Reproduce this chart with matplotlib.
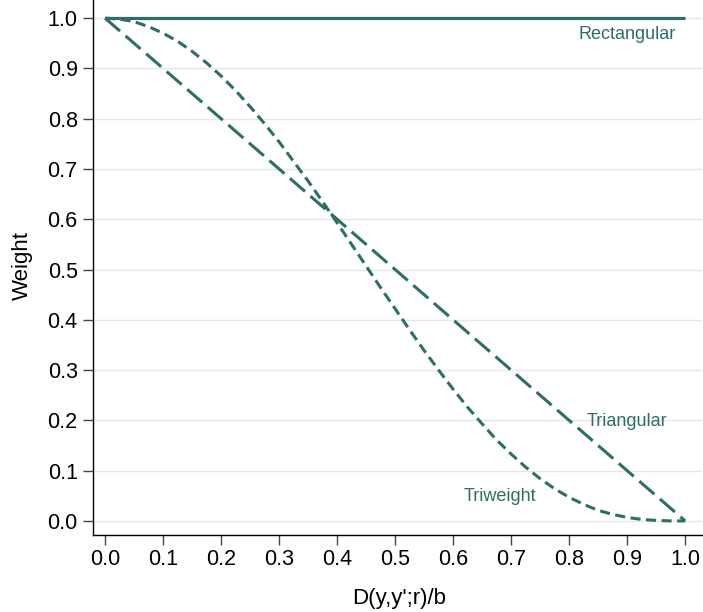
import numpy as np
from matplotlib import pyplot as plt

plt.rcParams['font.family'] = ['Liberation Sans', 'DejaVu Sans']

# distance values (x) and weights
d = [0.0, 0.025, 0.05, 0.075, 0.1, 0.125, 0.15, 0.175, 0.2, 0.225, 0.25, 0.275, 0.3,
     0.325, 0.35, 0.375, 0.4, 0.425, 0.45, 0.475, 0.5, 0.525, 0.55, 0.575, 0.6, 0.625,
     0.65, 0.675, 0.7, 0.725, 0.75, 0.775, 0.8, 0.825, 0.85, 0.875, 0.9, 0.925, 0.95,
     0.975, 1.0]
rect_w = [1.0] * len(d)
tri_d = [0.0, 1.0]
tri_w = [1.0, 0.0]
triweight_w = [1.0, 0.998, 0.993, 0.983, 0.970, 0.954, 0.934, 0.911, 0.885, 0.856,
               0.824, 0.790, 0.754, 0.715, 0.676, 0.635, 0.593, 0.550, 0.507, 0.464,
               0.422, 0.380, 0.339, 0.300, 0.262, 0.226, 0.193, 0.161, 0.133, 0.107,
               0.084, 0.064, 0.047, 0.033, 0.021, 0.013, 0.007, 0.003, 0.001, 0.0, 0.0]

col = '#2e6e66'

fig = plt.figure(figsize=(7.03, 6.12), dpi=100)
ax = fig.add_axes([0.1323, 0.1258, 0.8663, 0.8742])

ax.plot(d, rect_w, color=col, lw=2.3, solid_capstyle='butt')
ax.plot(tri_d, tri_w, color=col, lw=2.2, dashes=(6.5, 2.4))
ax.plot(d, triweight_w, color=col, lw=2.2, dashes=(3.3, 1.8))

ax.text(0.90, 0.968, 'Rectangular', color=col, fontsize=13, ha='center', va='center')
ax.text(0.90, 0.197, 'Triangular', color=col, fontsize=13, ha='center', va='center')
ax.text(0.68, 0.048, 'Triweight', color=col, fontsize=13, ha='center', va='center')

ax.set_xlim(-0.0207, 1.029)
ax.set_ylim(-0.028, 1.036)
ticks = np.round(np.arange(0, 1.01, 0.1), 1)
ax.set_xticks(ticks)
ax.set_yticks(ticks)
ax.set_xticklabels(['%.1f' % t for t in ticks])
ax.set_yticklabels(['%.1f' % t for t in ticks])
ax.tick_params(labelsize=15.5, length=7, width=1, color='#444444')
ax.tick_params(axis='y', pad=4)
ax.tick_params(axis='x', pad=3)
ax.yaxis.grid(True, color='#e6e6e6', lw=1)
ax.set_axisbelow(True)

for s in ['top', 'right']:
    ax.spines[s].set_visible(False)
for s in ['left', 'bottom']:
    ax.spines[s].set_linewidth(1)

# axis titles, placed in axes fraction
ax.set_xlabel("D(y,y';r)/b", fontsize=16)
ax.set_ylabel('Weight', fontsize=16)
ax.xaxis.set_label_coords(0.503, -0.118)
ax.yaxis.set_label_coords(-0.116, 0.503)
ax.xaxis.label.set_va('center')
ax.yaxis.label.set_va('center')

plt.savefig('out.png', dpi=100)
